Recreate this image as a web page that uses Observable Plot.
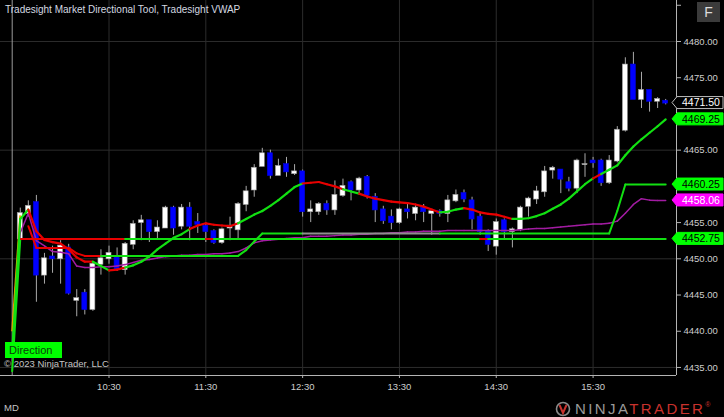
<!DOCTYPE html>
<html><head><meta charset="utf-8">
<script src="https://cdn.jsdelivr.net/npm/d3@7"></script>
<script src="https://cdn.jsdelivr.net/npm/@observablehq/plot@0.6"></script>
<style>
html,body{margin:0;padding:0;background:#000;}
#wrap{position:relative;width:724px;height:417px;background:#000;overflow:hidden;font-family:"Liberation Sans",Arial,sans-serif;}
.ov{position:absolute;white-space:nowrap;line-height:1;}
</style></head><body>
<div id="wrap">
  <div id="chart"></div>
  <div class="ov" style="left:5px;top:5px;font-size:10px;color:#d4d9e0">Tradesight Market Directional Tool, Tradesight VWAP</div>
  <div class="ov" style="left:697px;top:2px;width:23px;height:20px;background:#3b3b3b;color:#dcdcdc;font-size:14px;text-align:center;line-height:20px">F</div>
  <div class="ov" style="left:5px;top:342px;width:57px;height:16px;background:#00ff00;color:#0b3d0b;font-size:11px;line-height:16px;padding-left:4px;box-sizing:border-box">Direction</div>
  <div class="ov" style="left:4px;top:359px;font-size:9.5px;color:#c4c4c4">© 2023 NinjaTrader, LLC</div>
  <div class="ov" style="left:4px;top:403px;font-size:9.5px;color:#c4c4c4">MD</div>
  <div class="ov" style="left:555px;top:401px;height:16px">
    <svg width="18" height="16" style="position:absolute;left:0;top:0"><circle cx="8" cy="8" r="6.5" fill="none" stroke="#8a8a8a" stroke-width="1.6"/><path d="M4.5 4 L8 12 L11.5 4" fill="none" stroke="#c8322d" stroke-width="2"/></svg>
    <span style="position:absolute;left:20px;top:0;font-size:15px;letter-spacing:2.4px;color:#9a9a9a">NINJA<span style="color:#c8322d">TRADER</span><span style="font-size:7px;color:#c8322d;vertical-align:top">®</span></span>
  </div>
</div>
<script>
// ---- data ----
const firstBarMinute = 575;   // 09:35 (bar close time, minutes after midnight)
const barMinutes = 5;
const sessionStart = 570;     // 09:30
const opens  = [4452.75,4456.25,4457.75,4447.75,4450.25,4450,4451.5,4444.25,4445.25,4443,4449.25,4450,4450.25,4448.5,4452,4455,4455.25,4453.75,4454.25,4457,4454.5,4457,4455,4454.5,4453.75,4452.25,4454.25,4454,4457.5,4459.5,4462.75,4464.5,4461.5,4463,4461.75,4462,4456.5,4456.5,4457.5,4456.75,4458.75,4460.5,4459.5,4461.25,4458.5,4456.75,4455.75,4455,4456.75,4456.25,4457,4456.25,4456.5,4456.25,4458,4459,4458,4455.75,4453.75,4451.75,4455.25,4453.75,4454,4457.25,4458.25,4459.25,4462.25,4462.25,4460.5,4459.75,4463,4463.5,4463.5,4460.5,4463.5,4467.75,4476.75,4472,4473.25,4471.75,4471.75];
const highs  = [4457,4458,4458.75,4450.75,4451.75,4452.5,4452,4445.75,4445.75,4449.5,4451.25,4451.75,4451.5,4452.25,4455.25,4456,4455.25,4455.25,4457.25,4457.25,4457.5,4457.75,4456.25,4454.75,4454,4454.25,4455.75,4457.75,4460,4463,4465.25,4465,4463.75,4464,4463,4462.25,4458,4457.75,4458,4460.75,4461,4460.75,4461.25,4461.5,4459,4457.25,4456.75,4457,4457.5,4457.5,4457.5,4456.5,4456.75,4458.75,4459.5,4459.5,4458.5,4456.25,4454,4455.5,4455.5,4454.25,4457.25,4458.5,4460,4462.75,4462.75,4462.25,4461.25,4463.75,4464.5,4464,4463.75,4464.25,4468.25,4477.75,4478.5,4475.75,4473.25,4472.25,4472];
const lows   = [4452.5,4455.75,4444,4446.5,4448,4446.5,4445,4442,4442.25,4442.75,4447.75,4449.25,4448.25,4447.75,4451.25,4452.5,4452.25,4452.75,4454.25,4453.25,4454,4452.5,4453.5,4452.25,4452,4452,4452.5,4452.75,4456.5,4458.5,4462.75,4461,4461.5,4461.25,4461.5,4455.75,4455,4456,4456,4456,4458.5,4458,4459,4458.25,4455,4454.75,4454,4454.75,4455.5,4455.25,4455,4453.25,4455.75,4455,4457.75,4457.75,4454,4453.25,4451,4450.5,4452.75,4451.5,4453.75,4455.75,4457.5,4458.5,4461,4459,4459.25,4459,4461.25,4462.5,4460,4460.25,4463.25,4467.5,4472,4470.75,4470.25,4470.75,4471.25];
const closes = [4456.25,4457.25,4447.75,4450,4450,4451.75,4445.25,4444.5,4443,4449.25,4450,4450.75,4448.5,4452,4454.75,4455.25,4453.75,4454.25,4457,4454.25,4457,4454.5,4454.75,4453.75,4452.25,4454,4454.5,4457.5,4459.25,4462.5,4464.5,4461.5,4462.75,4462,4462,4456.5,4456.75,4457.5,4456.75,4458.75,4460,4459.5,4461,4458.75,4456.75,4455.25,4455,4456.75,4456.5,4457,4456.5,4456.5,4456.25,4458,4458.75,4458.25,4455.5,4453.75,4452,4455,4453.75,4454,4457,4458.25,4459.25,4462,4462.5,4461,4459.75,4463.5,4463,4463.25,4460.5,4463.5,4467.75,4476.75,4472,4473.25,4471.75,4472,4471.5];

// Tradesight VWAP band (bar index -1..80) and its trend runs (state from that bar on)
const vwapBand = [4437,4455.5,4456.8,4453.8,4452.6,4452.3,4452.1,4451.3,4450.2,4449.6,4449.6,4449.0,4448.4,4448.5,4448.8,4449.1,4449.6,4450.3,4451.3,4452.1,4452.9,4453.4,4454.1,4454.6,4454.9,4454.7,4454.6,4454.5,4454.9,4455.5,4456.1,4456.6,4457.3,4458.1,4459.0,4459.9,4460.4,4460.5,4460.6,4460.3,4460.0,4459.6,4459.3,4459.0,4458.6,4458.3,4458.1,4457.9,4457.8,4457.7,4457.5,4457.2,4456.8,4456.4,4456.5,4456.8,4457.0,4456.8,4456.4,4456.2,4456.1,4455.8,4455.5,4455.5,4455.6,4455.9,4456.3,4456.9,4457.5,4458.3,4459.3,4460.3,4461.1,4461.7,4462.3,4462.9,4464.3,4465.5,4466.5,4467.4,4468.3,4469.25];
const vwapBandRuns = [[-1,"up"],[2,"down"],[10,"up"],[12,"down"],[14,"up"],[22,"down"],[28,"up"],[36,"down"],[41,"up"],[43,"down"],[53,"up"],[56,"down"],[62,"up"],[72,"down"],[73,"up"]];
// VWAP (bar index -1..80)
const vwap = [4436,4453.6,4456.3,4452.5,4451.8,4451.0,4450.9,4450.7,4449.0,4448.8,4448.8,4448.9,4448.9,4449.0,4449.2,4449.5,4449.8,4449.9,4450.1,4450.3,4450.4,4450.5,4450.5,4450.6,4450.6,4450.7,4450.7,4450.8,4451.0,4451.5,4452.2,4452.5,4452.6,4452.7,4452.8,4452.9,4452.9,4453.1,4453.1,4453.1,4453.2,4453.3,4453.3,4453.4,4453.4,4453.5,4453.5,4453.6,4453.6,4453.7,4453.7,4453.8,4453.8,4453.8,4453.9,4453.9,4453.9,4453.9,4453.9,4453.9,4453.9,4453.9,4453.9,4454.0,4454.1,4454.2,4454.2,4454.3,4454.4,4454.5,4454.6,4454.7,4454.8,4454.8,4454.9,4455.2,4456.3,4457.5,4458.3,4458.1,4458.06,4458.06];
// Directional step level: vertices (bar index) and values
const stepIdx = [1,2,6,7,8,10,27,28,29,30,35,52,73,74,75,80];
const stepVal = [4454.5,4451.5,4451.5,4450.75,4450.4,4450.4,4450.4,4451.2,4452.4,4453.5,4453.5,4453.5,4453.5,4456.6,4460.25,4460.25];
const stepRuns = [[1,"down"],[11,"up"],[36,"flat"],[53,"up"]];
// Directional base level
const levelIdx = [-1,0,13,23,24,57,58,80];
const levelVal = [4434.5,4452.75,4452.75,4452.75,4452.75,4452.75,4452.75,4452.75];
const levelRuns = [[-1,"up"],[1,"down"],[14,"up"],[24,"down"],[25,"up"],[58,"down"],[59,"up"]];
// Direction start line
const dirIdx = [-1,0];
const dirVal = [4440,4456];

const priceTicks = [4435,4440,4445,4450,4455,4460,4465,4470,4475,4480,4485];
const gridPrices = [4435,4450,4465,4480];
const hourTicks = [630,690,750,810,870,930];
const hourLabels = ["10:30","11:30","12:30","13:30","14:30","15:30"];

// ---- styles ----
const palette = {up:"#12e012", down:"#e80000", flat:"#8e8e8e"};

const barTime = i => firstBarMinute + barMinutes * i;
const stateAt = (runs, i) => { let s = runs[0][1]; for (const [k, v] of runs) if (i >= k) s = v; return s; };
function segs(idx, vals, runs, fixed) {
  const out = [];
  for (let k = 0; k + 1 < vals.length; k++) {
    out.push({x1: barTime(idx[k]), y1: vals[k], x2: barTime(idx[k+1]), y2: vals[k+1],
      color: fixed || palette[stateAt(runs, idx[k+1])]});
  }
  return out;
}
const fullIdx = vwapBand.map((_, k) => k - 1);
const bandSegs = segs(fullIdx, vwapBand, vwapBandRuns);
const vwapSegs = segs(fullIdx, vwap, null, "#a21ca2");
const stepSegs = segs(stepIdx, stepVal, stepRuns);
const levelSegs = segs(levelIdx, levelVal, levelRuns);
const dirSegs = segs(dirIdx, dirVal, null, "#f0a000");

const candles = opens.map((o, i) => ({t: barTime(i), open: o, high: highs[i], low: lows[i], close: closes[i]}));

const last = a => a[a.length - 1];
const flagItems = [
  {v: last(closes), kind: "price"},
  {v: last(vwapBand), kind: "green"},
  {v: last(stepVal), kind: "green"},
  {v: last(vwap), kind: "magenta"},
  {v: last(levelVal), kind: "green"}
];
const flagStyle = {
  price: {fill: "#000", stroke: "#bdbdbd", text: "#ffffff"},
  green: {fill: "#00ff00", stroke: "#00ff00", text: "#000000"},
  magenta: {fill: "#ff00ff", stroke: "#ff00ff", text: "#ffffff"}
};
// axis labels hidden where a price flag sits over them
const coveredByFlag = d => flagItems.some(f => Math.abs(f.v - d) < 1.6);
function flagMark(index, scales, values, dims) {
  const g = d3.create("svg:g");
  const xr = dims.width - dims.marginRight;
  for (const f of flagItems) {
    const y = scales.y(f.v), st = flagStyle[f.kind];
    const tip = xr - 4, b = xr + 1, r = dims.width - 1, h = 6;
    g.append("path")
      .attr("d", `M${tip},${y} L${b},${y-h} L${r},${y-h} L${r},${y+h} L${b},${y+h} Z`)
      .attr("fill", st.fill).attr("stroke", st.stroke).attr("stroke-width", 1);
    g.append("text").attr("x", xr + 6).attr("y", y).attr("dy", "0.36em")
      .attr("text-anchor", "start")
      .attr("fill", st.text).attr("font-size", "10.5px").text(f.v.toFixed(2));
  }
  return g.node();
}

const chart = Plot.plot({
  width: 724, height: 417,
  marginLeft: 0, marginRight: 48, marginTop: 0, marginBottom: 42,
  style: {background: "#000", color: "#cdcdcd", fontFamily: "Liberation Sans, Arial, sans-serif", fontSize: "9.5px", overflow: "visible"},
  x: {domain: [562.75, 981.7], axis: null},
  y: {domain: [4433.89, 4485.66], axis: null},
  color: {type: "identity"},
  marks: [
    Plot.ruleY(gridPrices, {stroke: "#2c2c2c"}),
    Plot.ruleX(hourTicks, {stroke: "#2c2c2c"}),
    Plot.ruleX([sessionStart], {stroke: "#9c9c9c"}),
    Plot.ruleX(candles, {x: "t", y1: "low", y2: "high", stroke: "#a9a9a9", strokeWidth: 1}),
    Plot.rect(candles, {x1: d => d.t - 1.55, x2: d => d.t + 1.55, y1: "open", y2: "close",
      fill: d => d.close < d.open ? "#0000ff" : "#ffffff",
      stroke: d => d.close < d.open ? "#0000e0" : "#9a9a9a", strokeWidth: 0.6,
      insetTop: -0.5, insetBottom: -0.5}),
    Plot.link(dirSegs, {x1: "x1", y1: "y1", x2: "x2", y2: "y2", stroke: "color", strokeWidth: 2}),
    Plot.link(vwapSegs, {x1: "x1", y1: "y1", x2: "x2", y2: "y2", stroke: "color", strokeWidth: 1.5, strokeLinecap: "round"}),
    Plot.link(levelSegs, {x1: "x1", y1: "y1", x2: "x2", y2: "y2", stroke: "color", strokeWidth: 2, strokeLinecap: "round"}),
    Plot.link(stepSegs, {x1: "x1", y1: "y1", x2: "x2", y2: "y2", stroke: "color", strokeWidth: 2, strokeLinecap: "round"}),
    Plot.link(bandSegs, {x1: "x1", y1: "y1", x2: "x2", y2: "y2", stroke: "color", strokeWidth: 2.2, strokeLinecap: "round"}),
    Plot.ruleY([4433.89], {stroke: "#b4b4b4"}),
    Plot.ruleX([981.7], {y1: 4433.89, y2: 4485.66, stroke: "#b4b4b4"}),
    Plot.axisY({anchor: "right", ticks: priceTicks, tickSize: 4, tickPadding: 3, stroke: "#b4b4b4", label: null,
      tickFormat: d => (d > 4482 || coveredByFlag(d)) ? "" : d.toFixed(2)}),
    Plot.axisX({ticks: hourTicks, tickSize: 3, tickPadding: 5, stroke: "#b4b4b4", label: null,
      tickFormat: d => hourLabels[hourTicks.indexOf(d)]}),
    flagMark
  ]
});
document.getElementById("chart").appendChild(chart);
</script>
</body></html>
